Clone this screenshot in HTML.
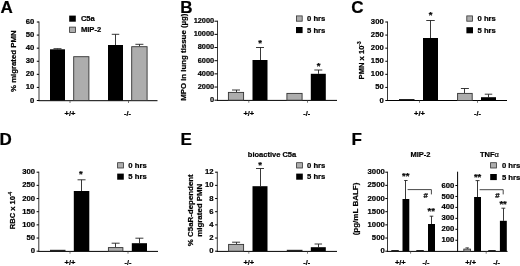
<!DOCTYPE html>
<html><head><meta charset="utf-8"><title>Figure</title>
<style>
html,body{margin:0;padding:0;background:#fff;}
body{width:520px;height:266px;overflow:hidden;}
svg{display:block;}
svg text{font-family:"Liberation Sans",Arial,sans-serif;font-weight:bold;fill:#000;stroke:#000;stroke-width:0.22px;}
</style></head><body>
<svg width="520" height="266" viewBox="0 0 520 266">
<rect width="520" height="266" fill="#fff"/>
<g style="filter:blur(0.4px)">
<text x="0.6" y="13.4" font-size="17" text-anchor="start" >A</text>
<text transform="translate(15.7,61.2) rotate(-90)" font-size="7.8" text-anchor="middle">% migrated PMN</text>
<line x1="39" y1="21.5" x2="39" y2="101.0" stroke="#222" stroke-width="0.9"/>
<line x1="36.8" y1="100.5" x2="39" y2="100.5" stroke="#000" stroke-width="1"/>
<text x="34.4" y="102.56" font-size="7.7" text-anchor="end" >0</text>
<line x1="36.8" y1="87.41666666666667" x2="39" y2="87.41666666666667" stroke="#000" stroke-width="1"/>
<text x="34.4" y="89.47" font-size="7.7" text-anchor="end" >10</text>
<line x1="36.8" y1="74.33333333333333" x2="39" y2="74.33333333333333" stroke="#000" stroke-width="1"/>
<text x="34.4" y="76.39" font-size="7.7" text-anchor="end" >20</text>
<line x1="36.8" y1="61.25" x2="39" y2="61.25" stroke="#000" stroke-width="1"/>
<text x="34.4" y="63.31" font-size="7.7" text-anchor="end" >30</text>
<line x1="36.8" y1="48.166666666666664" x2="39" y2="48.166666666666664" stroke="#000" stroke-width="1"/>
<text x="34.4" y="50.22" font-size="7.7" text-anchor="end" >40</text>
<line x1="36.8" y1="35.08333333333333" x2="39" y2="35.08333333333333" stroke="#000" stroke-width="1"/>
<text x="34.4" y="37.14" font-size="7.7" text-anchor="end" >50</text>
<line x1="36.8" y1="22.0" x2="39" y2="22.0" stroke="#000" stroke-width="1"/>
<text x="34.4" y="24.06" font-size="7.7" text-anchor="end" >60</text>
<line x1="38.5" y1="100.7" x2="157.5" y2="100.7" stroke="#000" stroke-width="1"/>
<line x1="128.5" y1="100.7" x2="128.5" y2="103" stroke="#444" stroke-width="0.7"/>
<line x1="70" y1="100.7" x2="70" y2="103" stroke="#444" stroke-width="0.7"/>
<line x1="57.5" y1="49.3" x2="57.5" y2="48.7" stroke="#222" stroke-width="0.9"/>
<line x1="53.5" y1="48.7" x2="61.5" y2="48.7" stroke="#222" stroke-width="0.9"/>
<rect x="50" y="49.3" width="15" height="51.2" fill="#000"/>
<rect x="73.7" y="56.699999999999996" width="15.2" height="43.800000000000004" fill="#adadad" stroke="#333" stroke-width="0.9"/>
<line x1="115.5" y1="45" x2="115.5" y2="34.3" stroke="#222" stroke-width="0.9"/>
<line x1="111.75" y1="34.3" x2="119.25" y2="34.3" stroke="#222" stroke-width="0.9"/>
<rect x="108" y="45" width="15" height="55.5" fill="#000"/>
<line x1="139.5" y1="46.3" x2="139.5" y2="44.3" stroke="#222" stroke-width="0.9"/>
<line x1="135.4" y1="44.3" x2="143.4" y2="44.3" stroke="#222" stroke-width="0.9"/>
<rect x="131.70000000000002" y="46.699999999999996" width="15.399999999999988" height="53.800000000000004" fill="#adadad" stroke="#333" stroke-width="0.9"/>
<rect x="69.2" y="15.6" width="6.6" height="6.1" fill="#000"/>
<rect x="69.60000000000001" y="27.099999999999998" width="5.8" height="5.3" fill="#adadad" stroke="#333" stroke-width="0.8"/>
<text x="80.9" y="21.37" font-size="7.6" text-anchor="start" >C5a</text>
<text x="80.9" y="32.47" font-size="7.6" text-anchor="start" >MIP-2</text>
<text x="70" y="116.2" font-size="7.5" text-anchor="middle" >+/+</text>
<text x="127.5" y="116.2" font-size="7.3" text-anchor="middle" >-/-</text>
<text x="180.3" y="13.2" font-size="17" text-anchor="start" >B</text>
<text transform="translate(185.8,57.2) rotate(-90)" font-size="7.85" text-anchor="middle">MPO in lung tissue (µg)</text>
<line x1="217.5" y1="20.7" x2="217.5" y2="100.7" stroke="#222" stroke-width="0.9"/>
<line x1="214.5" y1="100.2" x2="217.5" y2="100.2" stroke="#000" stroke-width="1"/>
<text x="214.2" y="102.15" font-size="7.4" text-anchor="end" >0</text>
<line x1="214.5" y1="87.03333333333333" x2="217.5" y2="87.03333333333333" stroke="#000" stroke-width="1"/>
<text x="214.2" y="88.98" font-size="7.4" text-anchor="end" >2000</text>
<line x1="214.5" y1="73.86666666666667" x2="217.5" y2="73.86666666666667" stroke="#000" stroke-width="1"/>
<text x="214.2" y="75.82" font-size="7.4" text-anchor="end" >4000</text>
<line x1="214.5" y1="60.7" x2="217.5" y2="60.7" stroke="#000" stroke-width="1"/>
<text x="214.2" y="62.65" font-size="7.4" text-anchor="end" >6000</text>
<line x1="214.5" y1="47.53333333333334" x2="217.5" y2="47.53333333333334" stroke="#000" stroke-width="1"/>
<text x="214.2" y="49.48" font-size="7.4" text-anchor="end" >8000</text>
<line x1="214.5" y1="34.366666666666674" x2="217.5" y2="34.366666666666674" stroke="#000" stroke-width="1"/>
<text x="214.2" y="36.32" font-size="7.4" text-anchor="end" >10000</text>
<line x1="214.5" y1="21.200000000000003" x2="217.5" y2="21.200000000000003" stroke="#000" stroke-width="1"/>
<text x="214.2" y="23.15" font-size="7.4" text-anchor="end" >12000</text>
<line x1="217" y1="100.4" x2="337" y2="100.4" stroke="#000" stroke-width="1"/>
<line x1="307.5" y1="100.4" x2="307.5" y2="102.7" stroke="#444" stroke-width="0.7"/>
<line x1="248.8" y1="100.4" x2="248.8" y2="102.7" stroke="#444" stroke-width="0.7"/>
<line x1="236.5" y1="92" x2="236.5" y2="90" stroke="#222" stroke-width="0.9"/>
<line x1="232.0" y1="90" x2="240.0" y2="90" stroke="#222" stroke-width="0.9"/>
<rect x="228.4" y="92.4" width="15.2" height="7.8000000000000025" fill="#adadad" stroke="#333" stroke-width="0.9"/>
<line x1="260.5" y1="60" x2="260.5" y2="47.5" stroke="#222" stroke-width="0.9"/>
<line x1="256.0" y1="47.5" x2="264.0" y2="47.5" stroke="#222" stroke-width="0.9"/>
<rect x="252.5" y="60" width="15.0" height="40.2" fill="#000"/>
<rect x="286.9" y="93.4" width="15.2" height="6.8000000000000025" fill="#adadad" stroke="#333" stroke-width="0.9"/>
<line x1="318.5" y1="73.8" x2="318.5" y2="70" stroke="#222" stroke-width="0.9"/>
<line x1="314.3" y1="70" x2="322.3" y2="70" stroke="#222" stroke-width="0.9"/>
<rect x="310.8" y="73.8" width="15.0" height="26.400000000000006" fill="#000"/>
<text x="260" y="46.1" font-size="9.5" text-anchor="middle" >*</text>
<text x="318.6" y="69.1" font-size="9.5" text-anchor="middle" >*</text>
<rect x="296.4" y="15.9" width="5.8" height="5.3" fill="#adadad" stroke="#333" stroke-width="0.8"/>
<rect x="296" y="27" width="6.6" height="6.1" fill="#000"/>
<text x="307" y="21.31" font-size="7.7" text-anchor="start" >0 hrs</text>
<text x="307" y="32.81" font-size="7.7" text-anchor="start" >5 hrs</text>
<text x="248.8" y="116.2" font-size="7.5" text-anchor="middle" >+/+</text>
<text x="306.8" y="116.2" font-size="7.3" text-anchor="middle" >-/-</text>
<text x="351.2" y="13.3" font-size="17" text-anchor="start" >C</text>
<text transform="translate(363.7,79.4) rotate(-90)" font-size="7.6" text-anchor="start">PMN x 10<tspan font-size="4.6" dy="-3">-3</tspan></text>
<line x1="387.5" y1="21.5" x2="387.5" y2="101.0" stroke="#222" stroke-width="0.9"/>
<line x1="385.3" y1="100.5" x2="387.5" y2="100.5" stroke="#000" stroke-width="1"/>
<text x="383.7" y="102.56" font-size="7.7" text-anchor="end" >0</text>
<line x1="385.3" y1="87.41666666666667" x2="387.5" y2="87.41666666666667" stroke="#000" stroke-width="1"/>
<text x="383.7" y="89.47" font-size="7.7" text-anchor="end" >50</text>
<line x1="385.3" y1="74.33333333333333" x2="387.5" y2="74.33333333333333" stroke="#000" stroke-width="1"/>
<text x="383.7" y="76.39" font-size="7.7" text-anchor="end" >100</text>
<line x1="385.3" y1="61.25" x2="387.5" y2="61.25" stroke="#000" stroke-width="1"/>
<text x="383.7" y="63.31" font-size="7.7" text-anchor="end" >150</text>
<line x1="385.3" y1="48.166666666666664" x2="387.5" y2="48.166666666666664" stroke="#000" stroke-width="1"/>
<text x="383.7" y="50.22" font-size="7.7" text-anchor="end" >200</text>
<line x1="385.3" y1="35.08333333333333" x2="387.5" y2="35.08333333333333" stroke="#000" stroke-width="1"/>
<text x="383.7" y="37.14" font-size="7.7" text-anchor="end" >250</text>
<line x1="385.3" y1="22.0" x2="387.5" y2="22.0" stroke="#000" stroke-width="1"/>
<text x="383.7" y="24.06" font-size="7.7" text-anchor="end" >300</text>
<line x1="387" y1="100.5" x2="507" y2="100.5" stroke="#000" stroke-width="1"/>
<line x1="399" y1="99.60000000000001" x2="414.5" y2="99.60000000000001" stroke="#222" stroke-width="1.2"/>
<line x1="430.5" y1="38" x2="430.5" y2="20.5" stroke="#222" stroke-width="0.9"/>
<line x1="426.25" y1="20.5" x2="434.75" y2="20.5" stroke="#222" stroke-width="0.9"/>
<rect x="423" y="38" width="15" height="62.5" fill="#000"/>
<line x1="464.5" y1="93" x2="464.5" y2="88.5" stroke="#222" stroke-width="0.9"/>
<line x1="460.9" y1="88.5" x2="468.9" y2="88.5" stroke="#222" stroke-width="0.9"/>
<rect x="457.59999999999997" y="93.4" width="14.600000000000033" height="7.1" fill="#adadad" stroke="#333" stroke-width="0.9"/>
<line x1="488.5" y1="97.2" x2="488.5" y2="94.2" stroke="#222" stroke-width="0.9"/>
<line x1="484.75" y1="94.2" x2="492.25" y2="94.2" stroke="#222" stroke-width="0.9"/>
<rect x="481" y="97.2" width="15" height="3.299999999999997" fill="#000"/>
<text x="430.5" y="18.1" font-size="9.5" text-anchor="middle" >*</text>
<rect x="466.79999999999995" y="15.9" width="5.8" height="5.3" fill="#adadad" stroke="#333" stroke-width="0.8"/>
<rect x="466.4" y="27.2" width="6.6" height="6.1" fill="#000"/>
<text x="477.5" y="21.31" font-size="7.7" text-anchor="start" >0 hrs</text>
<text x="477.5" y="33.01" font-size="7.7" text-anchor="start" >5 hrs</text>
<text x="419.5" y="116.2" font-size="7.5" text-anchor="middle" >+/+</text>
<text x="477.5" y="116.2" font-size="7.3" text-anchor="middle" >-/-</text>
<line x1="419.5" y1="100.5" x2="419.5" y2="102.8" stroke="#444" stroke-width="0.7"/>
<line x1="477.5" y1="100.5" x2="477.5" y2="102.8" stroke="#444" stroke-width="0.7"/>
<text x="-0.6" y="145" font-size="17" text-anchor="start" >D</text>
<text transform="translate(15.2,229.3) rotate(-90)" font-size="7.6" text-anchor="start">RBC x 10<tspan font-size="4.6" dy="-3">-4</tspan></text>
<line x1="38.8" y1="171.7" x2="38.8" y2="251.7" stroke="#222" stroke-width="0.9"/>
<line x1="36.599999999999994" y1="251.2" x2="38.8" y2="251.2" stroke="#000" stroke-width="1"/>
<text x="34.99999999999999" y="253.26" font-size="7.7" text-anchor="end" >0</text>
<line x1="36.599999999999994" y1="238.03333333333333" x2="38.8" y2="238.03333333333333" stroke="#000" stroke-width="1"/>
<text x="34.99999999999999" y="240.09" font-size="7.7" text-anchor="end" >50</text>
<line x1="36.599999999999994" y1="224.86666666666665" x2="38.8" y2="224.86666666666665" stroke="#000" stroke-width="1"/>
<text x="34.99999999999999" y="226.92" font-size="7.7" text-anchor="end" >100</text>
<line x1="36.599999999999994" y1="211.7" x2="38.8" y2="211.7" stroke="#000" stroke-width="1"/>
<text x="34.99999999999999" y="213.76" font-size="7.7" text-anchor="end" >150</text>
<line x1="36.599999999999994" y1="198.53333333333333" x2="38.8" y2="198.53333333333333" stroke="#000" stroke-width="1"/>
<text x="34.99999999999999" y="200.59" font-size="7.7" text-anchor="end" >200</text>
<line x1="36.599999999999994" y1="185.36666666666667" x2="38.8" y2="185.36666666666667" stroke="#000" stroke-width="1"/>
<text x="34.99999999999999" y="187.42" font-size="7.7" text-anchor="end" >250</text>
<line x1="36.599999999999994" y1="172.2" x2="38.8" y2="172.2" stroke="#000" stroke-width="1"/>
<text x="34.99999999999999" y="174.26" font-size="7.7" text-anchor="end" >300</text>
<line x1="38.3" y1="251.4" x2="158" y2="251.4" stroke="#000" stroke-width="1"/>
<line x1="128" y1="251.4" x2="128" y2="253.7" stroke="#444" stroke-width="0.7"/>
<line x1="70" y1="251.4" x2="70" y2="253.7" stroke="#444" stroke-width="0.7"/>
<line x1="50" y1="250.39999999999998" x2="65.5" y2="250.39999999999998" stroke="#222" stroke-width="1.2"/>
<line x1="81.5" y1="191" x2="81.5" y2="179.8" stroke="#222" stroke-width="0.9"/>
<line x1="77.55" y1="179.8" x2="85.55" y2="179.8" stroke="#222" stroke-width="0.9"/>
<rect x="73.8" y="191" width="15.5" height="60.19999999999999" fill="#000"/>
<line x1="115.5" y1="247.2" x2="115.5" y2="243.2" stroke="#222" stroke-width="0.9"/>
<line x1="111.65" y1="243.2" x2="119.65" y2="243.2" stroke="#222" stroke-width="0.9"/>
<rect x="108.4" y="247.6" width="14.499999999999996" height="3.6" fill="#adadad" stroke="#333" stroke-width="0.9"/>
<line x1="139.5" y1="243.2" x2="139.5" y2="238.2" stroke="#222" stroke-width="0.9"/>
<line x1="135.4" y1="238.2" x2="143.4" y2="238.2" stroke="#222" stroke-width="0.9"/>
<rect x="131.8" y="243.2" width="15.199999999999989" height="8.0" fill="#000"/>
<text x="80.8" y="176.6" font-size="9.5" text-anchor="middle" >*</text>
<rect x="117.60000000000001" y="162.70000000000002" width="5.8" height="5.3" fill="#adadad" stroke="#333" stroke-width="0.8"/>
<rect x="117.2" y="173.6" width="6.6" height="6.1" fill="#000"/>
<text x="128.3" y="168.11" font-size="7.7" text-anchor="start" >0 hrs</text>
<text x="128.3" y="179.41" font-size="7.7" text-anchor="start" >5 hrs</text>
<text x="70" y="265.1" font-size="7.5" text-anchor="middle" >+/+</text>
<text x="128" y="265.1" font-size="7.3" text-anchor="middle" >-/-</text>
<text x="180.4" y="145.1" font-size="17" text-anchor="start" >E</text>
<text transform="translate(192.6,210.2) rotate(-90)" font-size="7.9" text-anchor="middle">% C5aR-dependent</text>
<text transform="translate(201.8,210.2) rotate(-90)" font-size="7.9" text-anchor="middle">migrated PMN</text>
<text x="272" y="157" font-size="7.5" text-anchor="middle" >bioactive C5a</text>
<line x1="217.3" y1="171.7" x2="217.3" y2="251.7" stroke="#222" stroke-width="0.9"/>
<line x1="215.10000000000002" y1="251.2" x2="217.3" y2="251.2" stroke="#000" stroke-width="1"/>
<text x="213.50000000000003" y="253.26" font-size="7.7" text-anchor="end" >0</text>
<line x1="215.10000000000002" y1="238.03333333333333" x2="217.3" y2="238.03333333333333" stroke="#000" stroke-width="1"/>
<text x="213.50000000000003" y="240.09" font-size="7.7" text-anchor="end" >2</text>
<line x1="215.10000000000002" y1="224.86666666666665" x2="217.3" y2="224.86666666666665" stroke="#000" stroke-width="1"/>
<text x="213.50000000000003" y="226.92" font-size="7.7" text-anchor="end" >4</text>
<line x1="215.10000000000002" y1="211.7" x2="217.3" y2="211.7" stroke="#000" stroke-width="1"/>
<text x="213.50000000000003" y="213.76" font-size="7.7" text-anchor="end" >6</text>
<line x1="215.10000000000002" y1="198.53333333333333" x2="217.3" y2="198.53333333333333" stroke="#000" stroke-width="1"/>
<text x="213.50000000000003" y="200.59" font-size="7.7" text-anchor="end" >8</text>
<line x1="215.10000000000002" y1="185.36666666666667" x2="217.3" y2="185.36666666666667" stroke="#000" stroke-width="1"/>
<text x="213.50000000000003" y="187.42" font-size="7.7" text-anchor="end" >10</text>
<line x1="215.10000000000002" y1="172.2" x2="217.3" y2="172.2" stroke="#000" stroke-width="1"/>
<text x="213.50000000000003" y="174.26" font-size="7.7" text-anchor="end" >12</text>
<line x1="216.8" y1="251.4" x2="337" y2="251.4" stroke="#000" stroke-width="1"/>
<line x1="307.5" y1="251.4" x2="307.5" y2="253.7" stroke="#444" stroke-width="0.7"/>
<line x1="248.8" y1="251.4" x2="248.8" y2="253.7" stroke="#444" stroke-width="0.7"/>
<line x1="236.5" y1="244" x2="236.5" y2="242.2" stroke="#222" stroke-width="0.9"/>
<line x1="232.1" y1="242.2" x2="240.1" y2="242.2" stroke="#222" stroke-width="0.9"/>
<rect x="228.6" y="244.4" width="15.00000000000001" height="6.799999999999988" fill="#adadad" stroke="#333" stroke-width="0.9"/>
<line x1="260.5" y1="186.2" x2="260.5" y2="168.5" stroke="#222" stroke-width="0.9"/>
<line x1="256.0" y1="168.5" x2="264.0" y2="168.5" stroke="#222" stroke-width="0.9"/>
<rect x="252.5" y="186.2" width="15.0" height="65.0" fill="#000"/>
<line x1="286.8" y1="250.39999999999998" x2="302.5" y2="250.39999999999998" stroke="#222" stroke-width="1.2"/>
<line x1="318.5" y1="247.2" x2="318.5" y2="244" stroke="#222" stroke-width="0.9"/>
<line x1="314.55" y1="244" x2="322.05" y2="244" stroke="#222" stroke-width="0.9"/>
<rect x="310.8" y="247.2" width="15.0" height="4.0" fill="#000"/>
<text x="260" y="167.9" font-size="9.5" text-anchor="middle" >*</text>
<rect x="296.59999999999997" y="162.70000000000002" width="5.8" height="5.3" fill="#adadad" stroke="#333" stroke-width="0.8"/>
<rect x="296.2" y="173.6" width="6.6" height="6.1" fill="#000"/>
<text x="307" y="168.11" font-size="7.7" text-anchor="start" >0 hrs</text>
<text x="307" y="179.41" font-size="7.7" text-anchor="start" >5 hrs</text>
<text x="248.8" y="265.1" font-size="7.5" text-anchor="middle" >+/+</text>
<text x="306.8" y="265.1" font-size="7.3" text-anchor="middle" >-/-</text>
<text x="351.6" y="145.1" font-size="17" text-anchor="start" >F</text>
<text transform="translate(357.6,209) rotate(-90)" font-size="8.0" text-anchor="middle">(pg/mL BALF)</text>
<text x="420.5" y="157.3" font-size="7.5" text-anchor="middle" >MIP-2</text>
<text x="480" y="157.3" font-size="7.5" text-anchor="start" >TNF<tspan font-weight="normal">α</tspan></text>
<line x1="387.5" y1="171.7" x2="387.5" y2="251.7" stroke="#222" stroke-width="0.9"/>
<line x1="385.3" y1="251.2" x2="387.5" y2="251.2" stroke="#000" stroke-width="1"/>
<text x="384.7" y="253.26" font-size="7.7" text-anchor="end" >0</text>
<line x1="385.3" y1="238.03333333333333" x2="387.5" y2="238.03333333333333" stroke="#000" stroke-width="1"/>
<text x="384.7" y="240.09" font-size="7.7" text-anchor="end" >500</text>
<line x1="385.3" y1="224.86666666666665" x2="387.5" y2="224.86666666666665" stroke="#000" stroke-width="1"/>
<text x="384.7" y="226.92" font-size="7.7" text-anchor="end" >1000</text>
<line x1="385.3" y1="211.7" x2="387.5" y2="211.7" stroke="#000" stroke-width="1"/>
<text x="384.7" y="213.76" font-size="7.7" text-anchor="end" >1500</text>
<line x1="385.3" y1="198.53333333333333" x2="387.5" y2="198.53333333333333" stroke="#000" stroke-width="1"/>
<text x="384.7" y="200.59" font-size="7.7" text-anchor="end" >2000</text>
<line x1="385.3" y1="185.36666666666667" x2="387.5" y2="185.36666666666667" stroke="#000" stroke-width="1"/>
<text x="384.7" y="187.42" font-size="7.7" text-anchor="end" >2500</text>
<line x1="385.3" y1="172.2" x2="387.5" y2="172.2" stroke="#000" stroke-width="1"/>
<text x="384.7" y="174.26" font-size="7.7" text-anchor="end" >3000</text>
<line x1="387" y1="251.4" x2="507.5" y2="251.4" stroke="#000" stroke-width="1"/>
<line x1="410.6" y1="251.4" x2="410.6" y2="253.7" stroke="#444" stroke-width="0.7"/>
<line x1="486.2" y1="251.4" x2="486.2" y2="253.7" stroke="#444" stroke-width="0.7"/>
<line x1="391.3" y1="250.6" x2="398.8" y2="250.6" stroke="#222" stroke-width="1.2"/>
<line x1="405.5" y1="199" x2="405.5" y2="180.5" stroke="#222" stroke-width="0.9"/>
<line x1="404.2" y1="180.5" x2="407.59999999999997" y2="180.5" stroke="#222" stroke-width="0.9"/>
<rect x="402.5" y="199" width="6.800000000000011" height="52.19999999999999" fill="#000"/>
<line x1="416.3" y1="250.6" x2="423.8" y2="250.6" stroke="#222" stroke-width="1.2"/>
<line x1="431.5" y1="224" x2="431.5" y2="216.2" stroke="#222" stroke-width="0.9"/>
<line x1="429.7" y1="216.2" x2="433.3" y2="216.2" stroke="#222" stroke-width="0.9"/>
<rect x="428" y="224" width="7" height="27.19999999999999" fill="#000"/>
<text x="405.8" y="179.2" font-size="9.5" text-anchor="middle" >**</text>
<text x="431.3" y="214.4" font-size="9.5" text-anchor="middle" >**</text>
<polyline points="407.6,189.6 431.4,189.6 431.4,194.4" fill="none" stroke="#333" stroke-width="0.9"/>
<text x="425.7" y="198" font-size="7.8" text-anchor="middle" >#</text>
<text x="400.3" y="265.1" font-size="7.5" text-anchor="middle" >+/+</text>
<text x="426" y="265.1" font-size="7.3" text-anchor="middle" >-/-</text>
<line x1="457.6" y1="171.7" x2="457.6" y2="251.7" stroke="#000" stroke-width="1"/>
<line x1="455.40000000000003" y1="240.25" x2="457.6" y2="240.25" stroke="#000" stroke-width="1"/>
<text x="454.40000000000003" y="242.31" font-size="7.7" text-anchor="end" >100</text>
<line x1="455.40000000000003" y1="229.29999999999998" x2="457.6" y2="229.29999999999998" stroke="#000" stroke-width="1"/>
<text x="454.40000000000003" y="231.36" font-size="7.7" text-anchor="end" >200</text>
<line x1="455.40000000000003" y1="218.35" x2="457.6" y2="218.35" stroke="#000" stroke-width="1"/>
<text x="454.40000000000003" y="220.41" font-size="7.7" text-anchor="end" >300</text>
<line x1="455.40000000000003" y1="207.39999999999998" x2="457.6" y2="207.39999999999998" stroke="#000" stroke-width="1"/>
<text x="454.40000000000003" y="209.46" font-size="7.7" text-anchor="end" >400</text>
<line x1="455.40000000000003" y1="196.45" x2="457.6" y2="196.45" stroke="#000" stroke-width="1"/>
<text x="454.40000000000003" y="198.51" font-size="7.7" text-anchor="end" >500</text>
<line x1="455.40000000000003" y1="185.5" x2="457.6" y2="185.5" stroke="#000" stroke-width="1"/>
<text x="454.40000000000003" y="187.56" font-size="7.7" text-anchor="end" >600</text>
<line x1="467.5" y1="248.7" x2="467.5" y2="247.9" stroke="#222" stroke-width="0.9"/>
<line x1="465.45" y1="247.9" x2="468.84999999999997" y2="247.9" stroke="#222" stroke-width="0.9"/>
<rect x="463.79999999999995" y="249.1" width="6.7" height="2.1" fill="#adadad" stroke="#333" stroke-width="0.9"/>
<line x1="477.5" y1="197" x2="477.5" y2="180.6" stroke="#222" stroke-width="0.9"/>
<line x1="475.55" y1="180.6" x2="479.55" y2="180.6" stroke="#222" stroke-width="0.9"/>
<rect x="474.1" y="197" width="6.899999999999977" height="54.19999999999999" fill="#000"/>
<line x1="488.2" y1="250.6" x2="495.7" y2="250.6" stroke="#222" stroke-width="1.2"/>
<line x1="503.5" y1="220.8" x2="503.5" y2="208.2" stroke="#222" stroke-width="0.9"/>
<line x1="501.45000000000005" y1="208.2" x2="505.25" y2="208.2" stroke="#222" stroke-width="0.9"/>
<rect x="499.9" y="220.8" width="6.900000000000034" height="30.399999999999977" fill="#000"/>
<text x="477.6" y="180.4" font-size="9.5" text-anchor="middle" >**</text>
<text x="503.1" y="207.3" font-size="9.5" text-anchor="middle" >**</text>
<polyline points="479.6,189.7 503.2,189.7 503.2,194.4" fill="none" stroke="#333" stroke-width="0.9"/>
<text x="497.4" y="198.2" font-size="7.8" text-anchor="middle" >#</text>
<rect x="490.59999999999997" y="162.70000000000002" width="5.8" height="5.3" fill="#adadad" stroke="#333" stroke-width="0.8"/>
<rect x="490.2" y="174" width="6.6" height="6.1" fill="#000"/>
<text x="501.9" y="168.11" font-size="7.7" text-anchor="start" >0 hrs</text>
<text x="501.9" y="179.81" font-size="7.7" text-anchor="start" >5 hrs</text>
<text x="470.6" y="265.1" font-size="7.5" text-anchor="middle" >+/+</text>
<text x="496.6" y="265.1" font-size="7.3" text-anchor="middle" >-/-</text>
</g>
</svg>
</body></html>
